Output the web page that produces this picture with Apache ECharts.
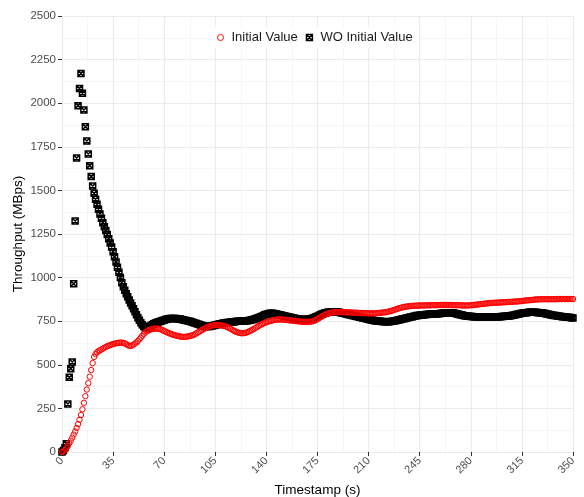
<!DOCTYPE html>
<html>
<head>
<meta charset="utf-8">
<script src="https://cdn.jsdelivr.net/npm/echarts@6/dist/echarts.min.js"></script>
<style>
html,body{margin:0;padding:0;background:#fff;}
#chart{width:584px;height:497px;}
</style>
</head>
<body>
<div id="chart"></div>
<script>
// Timestamps: one sample per second, starting at 0
const timeStart = 0;
const timeStep = 1;

const seriesNames = ['Initial Value', 'WO Initial Value'];
const xTicks = [0, 35, 70, 105, 140, 175, 210, 245, 280, 315, 350];
const yTicks = [0, 250, 500, 750, 1000, 1250, 1500, 1750, 2000, 2250, 2500];

// Throughput (MBps) with initial value
const initialValue = [
  0,5,11,22,35,50,65,82,100,118,
  138,160,185,212,245,282,320,358,395,432,
  470,510,545,562,572,578,583,588,593,598,
  602,606,610,613,616,619,621,623,625,626,
  627,627,626,623,618,613,609,608,611,616,
  622,628,636,646,656,667,677,685,692,697,
  700,703,705,707,708,708,707,705,702,698,
  694,690,686,682,679,676,673,670,668,666,
  664,662,661,660,660,661,662,664,666,668,
  671,675,680,685,690,695,700,705,709,713,
  717,720,723,725,727,728,728,728,727,726,
  724,722,720,717,713,709,704,699,694,690,
  687,684,682,681,681,682,684,687,691,695,
  699,704,709,714,719,724,729,733,737,741,
  744,747,750,752,754,756,758,759,760,760,
  760,760,759,758,757,756,755,754,753,752,
  751,750,749,748,747,747,746,746,746,747,
  747,748,750,753,757,762,767,772,777,782,
  786,790,793,796,798,800,801,802,802,802,
  802,802,802,802,801,801,800,800,800,799,
  799,799,798,798,797,797,796,796,796,796,
  795,795,795,795,795,796,796,797,798,799,
  800,801,802,804,806,808,810,813,816,819,
  822,825,827,829,831,833,834,835,836,837,
  838,838,839,839,839,840,840,840,840,841,
  841,841,841,842,842,842,842,842,843,843,
  843,843,843,843,843,843,843,842,842,842,
  842,842,841,841,841,840,840,840,840,841,
  841,842,843,844,845,846,847,848,849,850,
  851,852,853,854,854,855,855,856,856,857,
  857,858,858,859,859,860,860,861,861,862,
  862,863,863,864,865,866,867,868,869,870,
  870,871,872,873,874,875,875,876,876,876,
  876,876,876,876,876,876,876,876,876,877,
  877,877,877,877,877,877,877,877,877,877,877
];

// Throughput (MBps) without initial value
const woInitialValue = [
  0,8,25,48,275,428,478,516,965,1325,
  1686,1986,2085,2171,2057,1961,1865,1783,1709,1642,
  1579,1525,1483,1449,1420,1392,1365,1340,1315,1292,
  1270,1247,1223,1199,1175,1148,1120,1090,1060,1030,
  1000,970,948,928,908,890,872,855,838,821,
  804,787,770,755,741,729,719,712,712,716,
  721,726,731,735,739,742,745,748,751,754,
  757,760,762,764,765,766,766,766,765,764,
  763,762,760,758,756,754,752,750,748,746,
  743,740,737,734,731,728,725,722,720,719,
  719,720,722,724,726,728,730,732,734,736,
  738,740,741,742,743,744,745,746,747,748,
  749,749,750,750,751,751,752,753,754,756,
  758,760,762,765,768,771,775,779,783,787,
  790,792,794,795,795,794,793,791,789,787,
  785,783,781,779,777,775,773,771,769,767,
  765,763,762,761,760,760,760,760,761,762,
  763,765,768,771,775,779,783,787,791,794,
  797,799,801,802,803,804,804,804,803,802,
  801,799,797,795,793,791,789,787,785,783,
  781,779,777,775,773,771,769,767,765,763,
  761,759,757,755,753,752,751,750,749,748,
  748,747,747,747,747,748,749,750,752,754,
  756,758,760,762,764,766,768,770,772,774,
  776,778,780,782,783,784,785,786,787,788,
  789,790,790,791,791,792,792,793,793,794,
  795,796,797,798,799,799,799,798,797,795,
  793,791,789,787,785,783,781,780,779,778,
  777,777,776,776,776,775,775,775,775,775,
  775,775,775,775,775,775,775,775,775,776,
  776,777,777,778,778,779,780,781,782,784,
  786,788,790,792,794,796,797,798,799,800,
  801,801,801,801,801,800,800,799,798,797,
  796,794,792,790,788,786,784,783,782,781,
  779,778,777,776,775,774,773,772,771,770,768
];

function toPairs(values) {
  return values.map((v, i) => [timeStart + i * timeStep, v]);
}

const squareCross = 'path://M0,0L10,0L10,10L0,10Z M0,0L10,10 M10,0L0,10';

const chart = echarts.init(document.getElementById('chart'), null, {renderer: 'canvas'});
const font = 'Liberation Sans, Arial, Helvetica, sans-serif';

chart.setOption({
  animation: false,
  backgroundColor: '#ffffff',
  grid: {left: 62, right: 11, top: 16, bottom: 45, containLabel: false, outerBoundsMode: 'none'},
  legend: {
    data: [
      {name: seriesNames[0], icon: 'circle', itemStyle: {color: 'rgba(0,0,0,0)', borderColor: '#ff0000', borderWidth: 1}},
      {name: seriesNames[1], icon: squareCross, itemStyle: {color: 'rgba(0,0,0,0)', borderColor: '#000000', borderWidth: 1.4}}
    ],
    left: 211,
    top: 27,
    itemWidth: 6,
    itemHeight: 6,
    itemGap: 8,
    padding: [4, 6],
    backgroundColor: '#ffffff',
    textStyle: {fontFamily: font, fontSize: 13, color: '#1a1a1a', padding: [0, 0, 0, 3]}
  },
  xAxis: {
    type: 'value',
    min: xTicks[0],
    max: xTicks[xTicks.length - 1],
    interval: xTicks[1] - xTicks[0],
    name: 'Timestamp (s)',
    nameLocation: 'middle',
    nameGap: 31,
    nameMoveOverlap: false,
    nameTextStyle: {fontFamily: font, fontSize: 13.5, color: '#000'},
    axisLine: {show: false},
    axisTick: {show: true, length: 4, lineStyle: {color: '#333', width: 1}},
    axisLabel: {rotate: 45, fontFamily: font, fontSize: 11, color: '#4d4d4d', margin: 7,
      formatter: v => String(v)},
    splitLine: {show: true, lineStyle: {color: '#ebebeb', width: 1.1}},
    minorTick: {show: false, splitNumber: 2},
    minorSplitLine: {show: true, lineStyle: {color: '#f2f2f2', width: 0.8}}
  },
  yAxis: {
    type: 'value',
    min: yTicks[0],
    max: yTicks[yTicks.length - 1],
    interval: yTicks[1] - yTicks[0],
    name: 'Throughput (MBps)',
    nameLocation: 'middle',
    nameGap: 37,
    nameMoveOverlap: false,
    nameTextStyle: {fontFamily: font, fontSize: 13.5, color: '#000'},
    axisLine: {show: false},
    axisTick: {show: true, length: 4, lineStyle: {color: '#333', width: 1}},
    axisLabel: {fontFamily: font, fontSize: 11.5, color: '#4d4d4d', margin: 6,
      formatter: v => String(v)},
    splitLine: {show: true, lineStyle: {color: '#ebebeb', width: 1.1}},
    minorTick: {show: false, splitNumber: 2},
    minorSplitLine: {show: true, lineStyle: {color: '#f2f2f2', width: 0.8}}
  },
  series: [
    {
      name: seriesNames[1],
      type: 'scatter',
      symbol: squareCross,
      symbolSize: 6,
      itemStyle: {color: 'rgba(0,0,0,0)', borderColor: '#000000', borderWidth: 1.5, opacity: 1},
      data: toPairs(woInitialValue)
    },
    {
      name: seriesNames[0],
      type: 'scatter',
      symbol: 'circle',
      symbolSize: 5.4,
      itemStyle: {color: 'rgba(0,0,0,0)', borderColor: '#ff0000', borderWidth: 1, opacity: 1},
      data: toPairs(initialValue)
    }
  ]
});
</script>
</body>
</html>
